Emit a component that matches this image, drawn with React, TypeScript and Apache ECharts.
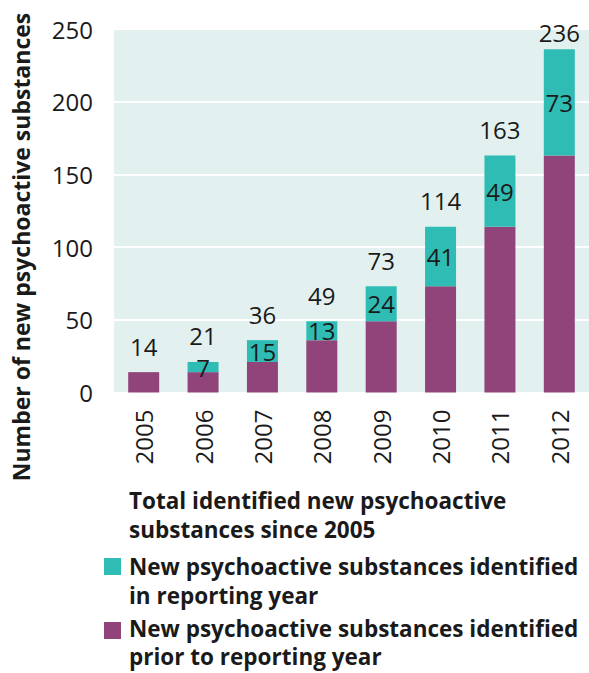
import React, { useEffect, useRef } from "react";
import * as echarts from "echarts";

const years = ["2005", "2006", "2007", "2008", "2009", "2010", "2011", "2012"];
const priorYear = [14, 14, 21, 36, 49, 73, 114, 163];
const newInYear: (number | null)[] = [null, 7, 15, 13, 24, 41, 49, 73];
const totals = [14, 21, 36, 49, 73, 114, 163, 236];
const yTicks = { min: 0, max: 250, interval: 50 };

const yTitle = "Number of new psychoactive substances";
const legendHeading = "Total identified new psychoactive\nsubstances since 2005";
const newName = "New psychoactive substances identified\nin reporting year";
const priorName = "New psychoactive substances identified\nprior to reporting year";

const TEAL = "#2fbcb5";
const PURPLE = "#91447a";
const BG = "#e2f1f0";
const INK = "#1a1a1a";
const FONT = '"Open Sans", "Noto Sans", sans-serif';

export default function App() {
  const ref = useRef<HTMLDivElement>(null);
  useEffect(() => {
    if (!ref.current) return;
    const chart = echarts.init(ref.current, undefined, { renderer: "svg" });
    const labelStyle = { fontSize: 24, color: INK, fontFamily: FONT };
    const boldText = {
      fontSize: 22.5,
      fontWeight: "bold",
      fontFamily: FONT,
      lineHeight: 29,
      fill: INK,
      align: "left",
      verticalAlign: "top",
    };
    chart.setOption({
      animation: false,
      textStyle: { fontFamily: FONT },
      grid: {
        left: 114,
        top: 29,
        width: 479,
        height: 363.5,
        show: true,
        backgroundColor: BG,
        borderWidth: 0,
        containLabel: false,
      },
      xAxis: {
        type: "category",
        data: years,
        axisLine: { show: true, lineStyle: { color: "#ffffff", width: 2 } },
        axisTick: { show: false },
        axisLabel: { ...labelStyle, rotate: 90, margin: 17 },
      },
      yAxis: {
        type: "value",
        min: yTicks.min,
        max: yTicks.max,
        interval: yTicks.interval,
        axisLine: { show: false },
        axisTick: { show: false },
        axisLabel: { ...labelStyle, margin: 21 },
        splitLine: { show: true, lineStyle: { color: "#ffffff", width: 2 } },
      },
      series: [
        {
          name: priorName,
          type: "bar",
          stack: "a",
          barWidth: 31,
          barGap: "-100%",
          itemStyle: { color: PURPLE },
          data: priorYear,
          z: 3,
        },
        {
          name: newName,
          type: "bar",
          stack: "a",
          barWidth: 31,
          barGap: "-100%",
          itemStyle: { color: TEAL },
          label: { show: true, position: "inside", ...labelStyle },
          data: newInYear.map((v) => (v == null ? "-" : v)),
          z: 3,
        },
        {
          name: "Total",
          type: "bar",
          barWidth: 31,
          barGap: "-100%",
          silent: true,
          itemStyle: { color: "rgba(0,0,0,0)" },
          label: { show: true, position: "top", distance: 14, ...labelStyle },
          data: totals.map((v, i) =>
            i === totals.length - 1 ? { value: v, label: { distance: 5 } } : v
          ),
          z: 4,
        },
      ],
      graphic: [
        {
          type: "text",
          x: 21,
          y: 247,
          rotation: Math.PI / 2,
          style: {
            text: yTitle,
            x: 0,
            y: 0,
            align: "center",
            verticalAlign: "middle",
            fontSize: 23,
            fontWeight: "bold",
            fontFamily: FONT,
            fill: INK,
          },
        },
        { type: "text", x: 129, y: 486, style: { text: legendHeading, ...boldText } },
        { type: "rect", shape: { x: 104, y: 558, width: 17, height: 17 }, style: { fill: TEAL } },
        { type: "text", x: 129, y: 552, style: { text: newName, ...boldText } },
        { type: "rect", shape: { x: 104, y: 622, width: 17, height: 17 }, style: { fill: PURPLE } },
        { type: "text", x: 129, y: 614, style: { text: priorName, ...boldText, lineHeight: 28 } },
      ],
    });
    return () => chart.dispose();
  }, []);
  return (
    <div
      ref={ref}
      style={{ position: "fixed", left: 0, top: 0, width: 589, height: 673, background: "#ffffff" }}
    />
  );
}
